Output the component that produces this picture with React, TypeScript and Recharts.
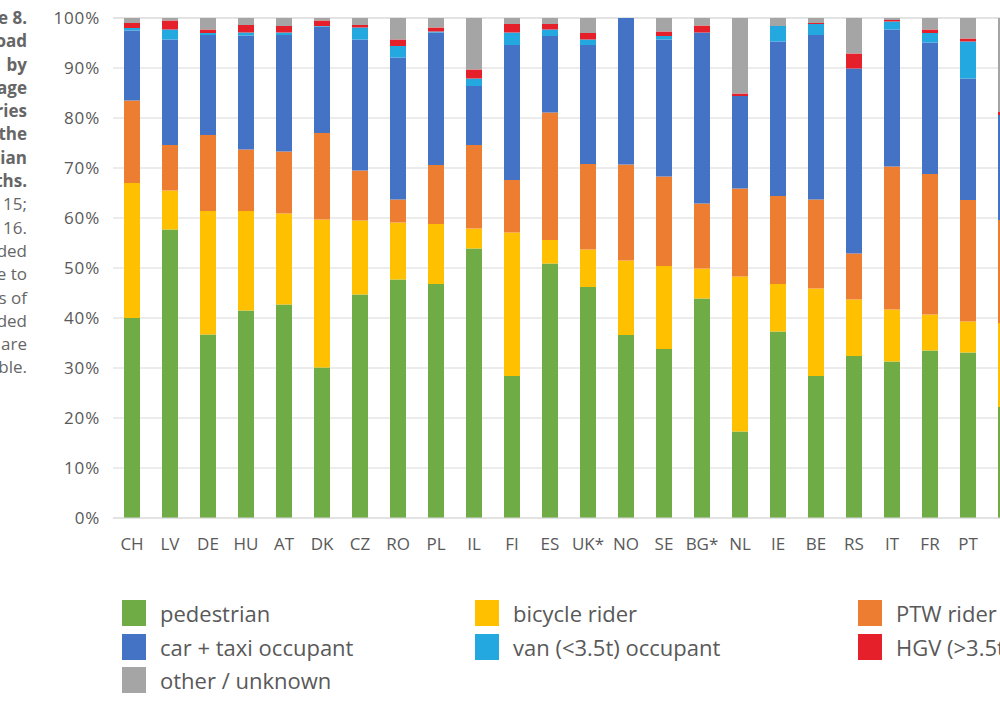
import React from "react";
import { Bar, BarChart, CartesianGrid, XAxis, YAxis } from "recharts";

const countries = ["CH", "LV", "DE", "HU", "AT", "DK", "CZ", "RO", "PL", "IL", "FI", "ES", "UK*", "NO", "SE", "BG*", "NL", "IE", "BE", "RS", "IT", "FR", "PT", ""];

const pedestrian = [40, 57.7, 36.7, 41.5, 42.7, 30.1, 44.7, 47.7, 46.8, 53.9, 28.4, 50.9, 46.2, 36.6, 33.8, 43.9, 17.3, 37.3, 28.4, 32.4, 31.3, 33.5, 33.1, 22.2];
const bicycle = [27, 7.8, 24.7, 19.9, 18.2, 29.6, 14.8, 11.4, 12, 4, 28.7, 4.7, 7.5, 14.9, 16.6, 6, 31, 9.5, 17.5, 11.3, 10.4, 7.2, 6.2, 16.8];
const ptw = [16.5, 9.1, 15.2, 12.3, 12.4, 17.3, 10, 4.6, 11.8, 16.7, 10.5, 25.5, 17.1, 19.2, 17.9, 13, 17.6, 17.6, 17.8, 9.2, 28.6, 28.1, 24.3, 20.6];
const car = [14, 21.1, 20, 22.8, 23.3, 21.3, 26.2, 28.4, 26.5, 11.8, 27, 15.3, 23.8, 29.3, 27.4, 34.2, 18.5, 30.9, 32.9, 37, 27.4, 26.3, 24.3, 21];
const van = [0.5, 2, 0.4, 0.6, 0.5, 0.1, 2.4, 2.3, 0.2, 1.5, 2.5, 1.3, 1.1, 0, 0.7, 0, 0, 3.1, 2.2, 0, 1.6, 1.9, 7.4, 0];
const hgv = [1, 1.8, 0.7, 1.5, 1.3, 1.1, 0.5, 1.3, 0.8, 1.8, 1.7, 1.1, 1.3, 0, 0.9, 1.4, 0.5, 0, 0.2, 3, 0.3, 0.7, 0.6, 0.6];
const other = [1, 0.5, 2.3, 1.4, 1.6, 0.5, 1.4, 4.3, 1.9, 10.3, 1.2, 1.2, 3, 0, 2.7, 1.5, 15.1, 1.6, 1, 7.1, 0.4, 2.3, 4.1, 18.8];

const yTicks = [0, 10, 20, 30, 40, 50, 60, 70, 80, 90, 100];

// caption on the left, cut off by the crop
const captionBold = ["e 8.", "oad", "by", "age", "ries", "the", "ian", "ths."];
const captionRegular = ["15;", "16.", "ded", "e to", "s of", "ded", "are", "ble."];

const SERIES = [
  { key: "pedestrian", label: "pedestrian", color: "#6fac46" },
  { key: "bicycle", label: "bicycle rider", color: "#ffc000" },
  { key: "ptw", label: "PTW rider", color: "#ed7d31" },
  { key: "car", label: "car + taxi occupant", color: "#4472c4" },
  { key: "van", label: "van (<3.5t) occupant", color: "#23a8e0" },
  { key: "hgv", label: "HGV (>3.5t) occupant", color: "#e6202a" },
  { key: "other", label: "other / unknown", color: "#a5a5a5" },
];

// legend read row by row, left to right
const legendOrder = ["pedestrian", "bicycle", "ptw", "car", "van", "hgv", "other"];

const data = countries.map((c, i) => ({
  country: c,
  pedestrian: pedestrian[i],
  bicycle: bicycle[i],
  ptw: ptw[i],
  car: car[i],
  van: van[i],
  hgv: hgv[i],
  other: other[i],
}));

const FONT = "'Open Sans', sans-serif";
const TEXT = "#595959";

export default function App() {
  const legendCols = [122, 475, 858];
  return (
    <div
      style={{
        position: "absolute",
        left: 0,
        top: 0,
        width: 1000,
        height: 705,
        overflow: "hidden",
        background: "#fff",
        fontFamily: FONT,
      }}
    >
      <div
        style={{
          position: "absolute",
          left: -173,
          top: 6,
          width: 200,
          textAlign: "right",
          color: "#666",
          fontSize: 17,
          lineHeight: "23.3px",
        }}
      >
        {captionBold.map((t, i) => (
          <div key={"b" + i} style={{ fontWeight: 700 }}>{t}</div>
        ))}
        {captionRegular.map((t, i) => (
          <div key={"r" + i}>{t}</div>
        ))}
      </div>

      <div style={{ position: "absolute", left: 0, top: 0 }}>
        <BarChart
          width={1040}
          height={570}
          data={data}
          margin={{ top: 18, right: 15, bottom: 0, left: 0 }}
          barSize={16}
        >
          <CartesianGrid vertical={false} stroke="#d9d9d9" />
          <XAxis
            dataKey="country"
            interval={0}
            tickLine={false}
            axisLine={{ stroke: "#d9d9d9" }}
            tickSize={0}
            tickMargin={20}
            height={52}
            tick={{ fill: TEXT, fontSize: 17, fontFamily: FONT }}
          />
          <YAxis
            domain={[0, 100]}
            ticks={yTicks}
            tickFormatter={(v) => `${v}%`}
            tickLine={false}
            axisLine={false}
            tickSize={0}
            tickMargin={13}
            width={113}
            tick={{ fill: TEXT, fontSize: 17, fontFamily: FONT, letterSpacing: 0.8 }}
          />
          {SERIES.map((s) => (
            <Bar
              key={s.key}
              dataKey={s.key}
              stackId="a"
              fill={s.color}
              isAnimationActive={false}
            />
          ))}
        </BarChart>
      </div>

      {legendOrder.map((k, i) => {
        const s = SERIES.find((x) => x.key === k)!;
        const col = i % 3;
        const row = Math.floor(i / 3);
        return (
          <div
            key={k}
            style={{
              position: "absolute",
              left: legendCols[col],
              top: 600 + row * 33.5,
              display: "flex",
              alignItems: "center",
              whiteSpace: "nowrap",
              height: 26,
            }}
          >
            <div style={{ width: 24, height: 26, background: s.color, marginRight: 14 }} />
            <span style={{ color: TEXT, fontSize: 22 }}>{s.label}</span>
          </div>
        );
      })}
    </div>
  );
}
